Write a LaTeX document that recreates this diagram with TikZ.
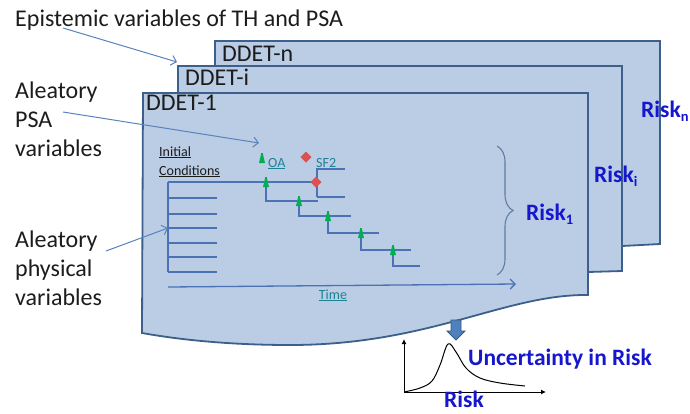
\documentclass[tikz,border=0pt]{standalone}
\usepackage{fontspec}
\setmainfont{Carlito}
\usetikzlibrary{arrows.meta,decorations.pathreplacing}

\definecolor{sheetfill}{RGB}{186,205,228}
\definecolor{sheetedge}{RGB}{60,95,140}
\definecolor{treeblue}{RGB}{74,114,180}
\definecolor{pointerblue}{RGB}{90,130,190}
\definecolor{bracegrey}{RGB}{95,125,165}
\definecolor{riskblue}{RGB}{22,22,205}
\definecolor{evgreen}{RGB}{0,176,80}
\definecolor{evred}{RGB}{220,82,82}
\definecolor{linkteal}{RGB}{30,130,150}
\definecolor{labelink}{RGB}{28,28,28}
\definecolor{blockfill}{RGB}{79,129,189}
\definecolor{blockedge}{RGB}{52,88,132}

% subscript for the risk labels, kept in the text font
\newcommand\risksub[1]{\raisebox{-0.4ex}{\fontsize{14.5}{14.5}\selectfont #1}}

\begin{document}
\begin{tikzpicture}[x=1pt,y=-1pt,
  sheet/.style={fill=sheetfill,draw=sheetedge,line width=1.8pt,line join=miter},
  sheettitle/.style={anchor=base west,inner sep=0,font=\fontsize{24}{28}\selectfont,text=labelink},
  sidelabel/.style={anchor=base west,inner sep=0,font=\fontsize{24}{28}\selectfont,text=labelink},
  smalllabel/.style={anchor=base west,inner sep=0,font=\fontsize{14}{16}\selectfont},
  risklabel/.style={anchor=base west,inner sep=0,font=\fontsize{23.5}{27}\bfseries,text=riskblue},
  pointer/.style={draw=pointerblue,line width=1pt,-{Straight Barb[length=5pt,width=10pt]}},
  branch/.style={draw=treeblue,line width=1.4pt},
  axis/.style={draw=black,line width=1pt,-{Latex[length=5pt,width=5pt]}},
  upmark/.pic={\fill[evgreen] (-3,5) -- (-0.7,-5) -- (0.7,-5) -- (3,5) -- cycle;},
  failmark/.pic={\fill[evred] (0,-5.5) -- (5.5,0) -- (0,5.5) -- (-5.5,0) -- cycle;}]

\useasboundingbox (0,0) rectangle (690,413);

% stacked sheets, back to front
\draw[sheet] (215,41) -- (660,41) -- (660,244) -- (622,246) -- (215,246) -- cycle;
\draw[sheet] (178,66) -- (622,66) -- (622,271) -- (588,272) -- (178,272) -- cycle;
\draw[sheet] (143,93) -- (588,93) -- (588,295)
  .. controls (505,294) and (430,345) .. (290,345)
  .. controls (220,345) and (170,338) .. (142,333) -- cycle;

\node[sheettitle] (ddetn) at (222,61) {DDET-n};
\node[sheettitle] (ddeti) at (185,85) {DDET-i};
\node[sheettitle] (ddet1) at (146,110) {DDET-1};

% labels on the left
\node[sidelabel] (epi) at (15,26) {Epistemic variables of TH and PSA};
\node[sidelabel] (psa1) at (15,98) {Aleatory};
\node[sidelabel] (psa2) at (15,127) {PSA};
\node[sidelabel] (psa3) at (15,156) {variables};
\node[sidelabel] (phy1) at (15,247) {Aleatory};
\node[sidelabel] (phy2) at (15,276) {physical};
\node[sidelabel] (phy3) at (15,305) {variables};

% legend of branching events
\pic at (262,158) {upmark};
\node[smalllabel,text=linkteal] (oa) at (268,167) {\underline{OA}};
\pic at (306,157) {failmark};
\node[smalllabel,text=linkteal] (sf) at (316,167) {\underline{SF2}};

\node[smalllabel,text=labelink] (ic1) at (159,156) {\underline{Initial}};
\node[smalllabel,text=labelink] (ic2) at (159,175) {\underline{Conditions}};

% dynamic event tree
\coordinate (root) at (168,182);
\coordinate (icend) at (168,272);
\coordinate (icmid) at (168,228);
\draw[branch] (root) -- (icend);
\foreach \yy in {198,214,228,243,257,272}
  \draw[branch] (168,\yy) -- (217,\yy);
\draw[branch] (root) -- (316,182);
\draw[branch] (266,182) |- (318,201);
\draw[branch] (317,169) -- (317,197);
\draw[branch] (317,169) -- (345,169);
\draw[branch] (317,197) -- (345,197);
\draw[branch] (299,201) |- (351,216);
\draw[branch] (328,216) |- (379,233);
\draw[branch] (361,233) |- (411,250);
\draw[branch] (393,250) |- (420,266);

\pic at (266,182) {upmark};
\pic at (316,182) {failmark};
\pic at (299,201) {upmark};
\pic at (328,216) {upmark};
\pic at (361,233) {upmark};
\pic at (393,250) {upmark};

% time axis
\coordinate (t0) at (168,287);
\coordinate (t1) at (516,284);
\draw[draw=treeblue,line width=1.3pt,-{Straight Barb[length=5pt,width=10pt]}] (t0) -- (t1);
\node[smalllabel,text=linkteal,anchor=base] (time) at (333,299) {\underline{Time}};

% risk of each sheet
\draw[draw=bracegrey,line width=1.1pt,decorate,decoration={brace,amplitude=16pt}]
  (497,146) -- (497,275);
\node[risklabel] (r1) at (526,220) {Risk\risksub{1}};
\node[risklabel] (ri) at (594,182) {Risk\risksub{i}};
\node[risklabel] (rn) at (641,117) {Risk\risksub{n}};

% pointers from the labels
\coordinate (epistart) at (63,28);
\coordinate (epitip) at (177,62);
\coordinate (psastart) at (63,112);
\coordinate (psatip) at (259,143);
\coordinate (phystart) at (106,251);
\draw[pointer] (epistart) -- (epitip);
\draw[pointer] (psastart) -- (psatip);
\draw[pointer] (phystart) -- (icmid);

% block arrow down to the distribution
\draw[fill=blockfill,draw=blockedge,line width=0.8pt]
  (451,320) -- (461,320) -- (461,331) -- (465,331) -- (456,340)
  -- (447,331) -- (451,331) -- cycle;

% uncertainty distribution
\coordinate (origin) at (404,392);
\coordinate (ytop) at (404,339);
\coordinate (xend) at (546,392);
\draw[axis] (origin) -- (ytop);
\draw[axis] (origin) -- (xend);
\draw[black,line width=1pt] plot[smooth,tension=0.6] coordinates
  {(404,392) (420,388) (432,381) (440,365) (448,344) (456,352) (466,368) (480,378) (500,383) (525,386)};
\node[risklabel] (unc) at (468,365) {Uncertainty in Risk};
\node[risklabel,anchor=base] (riskaxis) at (464,407) {Risk};

\end{tikzpicture}
\end{document}
